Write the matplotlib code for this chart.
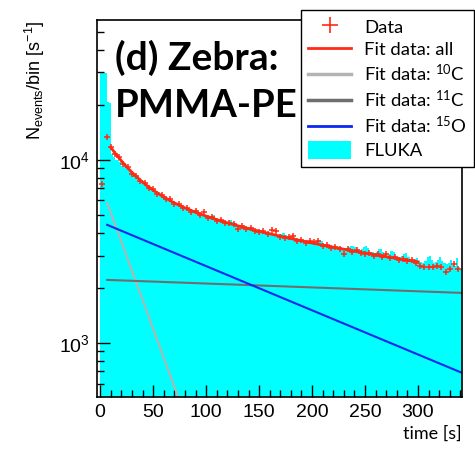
import matplotlib
matplotlib.use("Agg")
import matplotlib.pyplot as plt
import numpy as np
from matplotlib.ticker import MultipleLocator, LogLocator, NullFormatter
from matplotlib.lines import Line2D
from matplotlib.patches import Patch

# FLUKA histogram, 2 s bins from 0 to 342 s
fluka_edges = np.arange(0, 343, 2)
fluka = [
    30000, 30200, 29800, 20700, 20500,
    10700, 10400, 10000, 9950, 9700, 9300, 9250, 9000, 8750, 8650,
    8450, 8300, 8000, 7950, 7700, 7550, 7450, 7200, 7100, 6950,
    6900, 6700, 6650, 6500, 6350, 6300, 6200, 6050, 6050, 5900,
    5850, 5750, 5700, 5600, 5550, 5450, 5450, 5350, 5300, 5250,
    5350, 5150, 5050, 5050, 4980, 4950, 4900, 4850, 4980, 4800,
    4700, 4700, 4650, 4600, 4560, 4520, 4680, 4600, 4430, 4400,
    4380, 4330, 4400, 4300, 4250, 4220, 4300, 4200, 4120, 4150,
    4100, 4050, 4080, 4000, 4050, 3950, 3950, 3900, 3880, 3900,
    3950, 4000, 3900, 3780, 3750, 3720, 3780, 3700, 3650, 3680,
    3620, 3550, 3520, 3560, 3580, 3550, 3520, 3600, 3650, 3600,
    3450, 3420, 3430, 3400, 3380, 3400, 3360, 3350, 3330, 3300,
    3280, 3300, 3330, 3380, 3400, 3350, 3250, 3200, 3250, 3350,
    3380, 3300, 3150, 3120, 3100, 3150, 3250, 3260, 3150, 3050,
    3000, 3050, 3180, 3150, 3000, 2950, 2950, 3000, 3050, 3080,
    2950, 2880, 2850, 2880, 2900, 2820, 2780, 2750, 2800, 2950,
    3000, 2850, 2750, 2780, 2850, 2950, 2800, 2720, 2700, 2750,
    2850, 2680, 2620, 2900, 2600, 2520,
]

# measured data points
data_t = [2, 6, 10, 14, 18, 22, 26, 30, 34, 38, 42, 46, 50, 54, 58, 62, 66,
          70, 74, 78, 82, 86, 90, 94, 98, 102, 106, 110, 114, 118, 122, 126,
          130, 134, 138, 142, 146, 150, 154, 158, 162, 166, 170, 174, 178,
          182, 186, 190, 194, 198, 202, 206, 210, 214, 218, 222, 226, 230,
          234, 238, 242, 246, 250, 254, 258, 262, 266, 270, 274, 278, 282,
          286, 290, 294, 298, 302, 306, 310, 314, 318, 322, 326, 330, 334, 338]
data_v = [7400, 13400, 11800, 10750, 10300, 9500, 9100, 8420, 8200, 7700,
          7450, 7000, 6900, 6520, 6450, 6100, 6080, 5760, 5720, 5480, 5450,
          5220, 5250, 4990, 5180, 4840, 4860, 4650, 4700, 4520, 4530, 4470,
          4180, 4350, 4200, 4250, 4100, 4020, 4080, 3940, 4130, 4110, 3790,
          3760, 3800, 3840, 3620, 3660, 3520, 3600, 3580, 3620, 3390, 3420,
          3300, 3360, 3240, 3070, 3260, 3150, 3200, 3090, 3060, 3110, 2980,
          3050, 2950, 3060, 2900, 2950, 2840, 2890, 2800, 2830, 2750, 2620,
          2610, 2610, 2600, 2620, 2600, 2450, 2520, 2700, 2530]

# total fit curve
fit_t = [10, 15, 20, 25, 30, 35, 40, 45, 50, 60, 70, 80, 90, 100, 110, 120,
         130, 140, 150, 160, 170, 180, 190, 200, 210, 220, 230, 240, 250,
         260, 270, 280, 290, 300]
fit_all = [11690, 10700, 9866, 9155, 8541, 8020, 7564, 7171, 6828, 6263,
           5819, 5463, 5172, 4926, 4714, 4528, 4361, 4211, 4074, 3946, 3828,
           3716, 3614, 3515, 3419, 3333, 3250, 3172, 3097, 3026, 2959, 2893,
           2832, 2773]

# single components (straight on log scale): start and end points
c10_t, c10_v = [6.6, 80], [5820, 400]
c11_t, c11_v = [6.6, 342], [2210, 1876]
o15_t, o15_v = [6.6, 342], [4415, 685]

red = '#ff2a14'
cyan = '#00ffff'
blue = '#0a28f0'
lgray = '#b4b4b4'
dgray = '#6e6e6e'

plt.rcParams['font.family'] = 'Liberation Sans'
plt.rcParams['mathtext.fontset'] = 'custom'
plt.rcParams['mathtext.rm'] = 'Liberation Sans'

fig = plt.figure(figsize=(4.75, 4.49), dpi=100)
ax = fig.add_axes([97 / 475, 1 - 397 / 449, 365 / 475, 377 / 449])

ax.stairs(fluka, fluka_edges, fill=True, color=cyan, baseline=100, zorder=1)
ax.plot(c10_t, c10_v, color=lgray, lw=1.5, zorder=2)
ax.plot(c11_t, c11_v, color=dgray, lw=1.5, zorder=2)
ax.plot(o15_t, o15_v, color=blue, lw=1.5, zorder=2)
ax.plot(fit_t, fit_all, color=red, lw=2, zorder=3)
ax.plot(data_t, data_v, '+', color=red, ms=5, mew=1.1, zorder=4)

ax.set_yscale('log')
ax.set_xlim(-3, 341.5)
ax.set_ylim(507, 58000)

ax.set_xticks([0, 50, 100, 150, 200, 250, 300])
ax.xaxis.set_minor_locator(MultipleLocator(10))
ax.yaxis.set_major_locator(LogLocator(base=10))
ax.yaxis.set_minor_locator(LogLocator(base=10, subs=np.arange(2, 10)))
ax.yaxis.set_minor_formatter(NullFormatter())
ax.tick_params(which='both', direction='in', top=False, right=False,
               labelsize=14, pad=5, width=1)
ax.tick_params(which='major', length=9)
ax.tick_params(which='minor', length=5)
for s in ax.spines.values():
    s.set_linewidth(1.2)

ax.set_ylabel(r'N$_{\mathdefault{events}}$/bin [s$^{\mathdefault{-1}}$]',
              fontsize=13, loc='top')
ax.yaxis.set_label_coords(-0.138, 1.0)
ax.set_xlabel('time [s]', fontsize=13, family='Lato', loc='right')
ax.xaxis.set_label_coords(1.0, -0.075)

fig.text(115 / 475, 1 - 70 / 449, '(d) Zebra:', fontsize=28,
         family='Lato', weight='bold', va='baseline')
fig.text(115 / 475, 1 - 117 / 449, 'PMMA-PE', fontsize=27.5,
         family='Lato', weight='bold', va='baseline')

handles = [
    Line2D([], [], ls='none', marker='+', color=red, ms=12, mew=1.2),
    Line2D([], [], color=red, lw=2),
    Line2D([], [], color=lgray, lw=2.5),
    Line2D([], [], color=dgray, lw=2.5),
    Line2D([], [], color=blue, lw=2),
    Patch(facecolor=cyan, edgecolor='none'),
]
labels = ['Data', 'Fit data: all', r'Fit data: $\mathdefault{^{10}}$C',
          r'Fit data: $\mathdefault{^{11}}$C', r'Fit data: $\mathdefault{^{15}}$O',
          'FLUKA']
leg = ax.legend(handles, labels, loc='upper left', mode='expand',
                bbox_to_anchor=(301 / 475, 1 - 163 / 449, 173 / 475, 153 / 449),
                bbox_transform=fig.transFigure, borderaxespad=0,
                prop={'family': 'Lato', 'size': 13.3}, fancybox=False,
                framealpha=1, edgecolor='black', handlelength=2.3,
                handleheight=1.1, handletextpad=0.7, labelspacing=0.26,
                borderpad=0.4)
leg.get_frame().set_linewidth(1.0)

fig.savefig('out.png', dpi=100)
